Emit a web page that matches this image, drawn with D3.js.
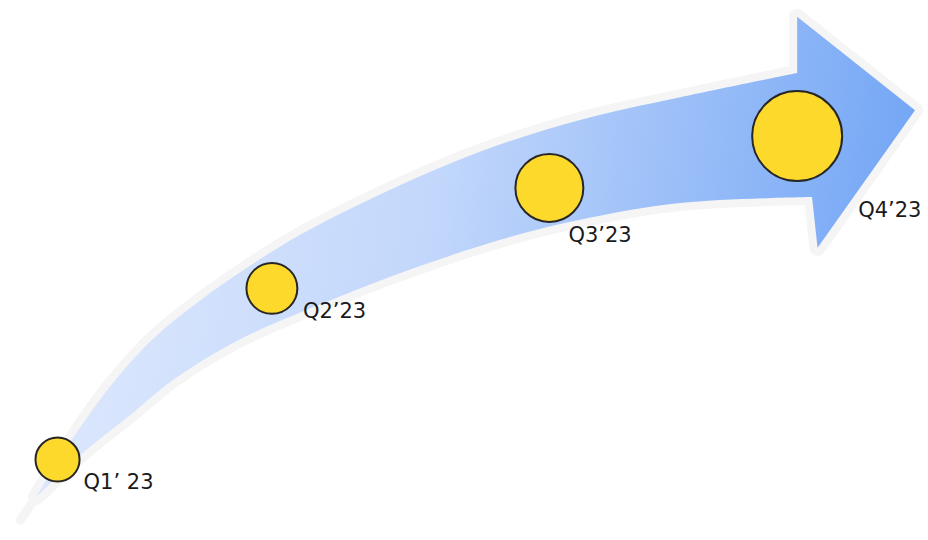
<!DOCTYPE html>
<html lang="ru">
<head>
    <meta charset="utf-8" />
    <title> quarter arrow </title>
    <script src="https://cdn.jsdelivr.net/npm/d3@7"></script>
    <style>
        body { margin: 0px; background: #ffffff; }
        .label { font-family: "DejaVu Sans", sans-serif; font-size: 21px; fill: #1a1a1a; }
    </style>
</head>
<body>

<svg id="chart"></svg>

<script>

    // quarters and their sizes
    var quarters = ['Q1\u2019 23', 'Q2\u201923', 'Q3\u201923', 'Q4\u201923'];
    var sizes = [24, 32, 57, 100];

    // where each quarter sits (percent of width / percent of height from bottom)
    var quarterX = [6.2, 29.3, 59.2, 85.9];
    var quarterY = [14.9, 46.6, 65.2, 74.8];

    // arrow outline, same units
    var arrowTop = [[3.9, 8.0], [8.3, 20.0], [12.4, 29.6], [16.7, 37.6], [21.6, 44.4], [26.6, 50.4],
        [32.3, 56.5], [41.7, 64.6], [51.7, 71.9], [62.5, 77.8], [73.3, 82.0], [85.9, 86.5]];
    var arrowHead = [[85.9, 96.9], [98.6, 79.6], [88.1, 54.1], [87.5, 63.5]];
    var arrowBottom = [[87.5, 63.5], [73.3, 62.4], [62.5, 59.3], [53.9, 55.6], [43.1, 49.4], [35.9, 44.6],
        [30.9, 41.1], [25.1, 36.5], [18.6, 29.6], [14.0, 23.1], [8.9, 16.1], [4.5, 8.9], [3.9, 8.0]];
    var tailEnd = [2.2, 3.7];

    function main() {

        var width = 928, height = 540;

        var svg = d3.select('#chart')
                .attr('width', width)
                .attr('height', height);

        var x = d3.scaleLinear().domain([0, 100]).range([0, width]);
        var y = d3.scaleLinear().domain([0, 100]).range([height, 0]);
        var r = d3.scaleSqrt().domain([0, d3.max(sizes)]).range([0, 45]);

        // gradient of the arrow
        var grad = svg.append('defs').append('linearGradient')
                .attr('id', 'arrow-grad')
                .attr('gradientUnits', 'userSpaceOnUse')
                .attr('x1', 40).attr('y1', 200)
                .attr('x2', 900).attr('y2', 330);
        grad.append('stop').attr('offset', 0).attr('stop-color', '#dfe9fd');
        grad.append('stop').attr('offset', 0.45).attr('stop-color', '#c2d7fb');
        grad.append('stop').attr('offset', 1).attr('stop-color', '#72a5f5');

        var line = d3.line()
                .x(function(d) { return x(d[0]); })
                .y(function(d) { return y(d[1]); })
                .curve(d3.curveCatmullRom);

        var head = arrowHead.map(function(p) { return 'L' + x(p[0]) + ',' + y(p[1]); }).join('');
        var d = line(arrowTop) + head + line(arrowBottom).replace(/^M/, 'L') + 'Z';

        // light halo
        svg.append('line')
                .attr('x1', x(arrowTop[0][0]))
                .attr('y1', y(arrowTop[0][1]))
                .attr('x2', x(tailEnd[0]))
                .attr('y2', y(tailEnd[1]))
                .style('stroke', '#f5f5f5')
                .style('stroke-width', 9)
                .style('stroke-linecap', 'round');

        svg.append('path')
                .attr('d', d)
                .style('fill', '#f5f5f5')
                .style('stroke', '#f5f5f5')
                .style('stroke-width', 16)
                .style('stroke-linejoin', 'round');

        svg.append('path')
                .attr('d', d)
                .style('fill', 'url(#arrow-grad)');

        // circles
        var g = svg.append('g').attr('class', 'points');

        g.selectAll('circle')
                .data(quarters)
                .enter().append('circle')
                .attr('cx', function(d, i) { return x(quarterX[i]); })
                .attr('cy', function(d, i) { return y(quarterY[i]); })
                .attr('r', function(d, i) { return r(sizes[i]); })
                .style('fill', '#fdd92b')
                .style('stroke', '#262626')
                .style('stroke-width', 2);

        // label nudges, px from circle centre
        var nudge = [[26, 29], [31, 30], [19, 54], [61, 81]];

        g.selectAll('text')
                .data(quarters)
                .enter().append('text')
                .attr('class', 'label')
                .attr('x', function(d, i) { return x(quarterX[i]) + nudge[i][0]; })
                .attr('y', function(d, i) { return y(quarterY[i]) + nudge[i][1]; })
                .text(function(d) { return d; });
    }

    main();

</script>

</body>
</html>
